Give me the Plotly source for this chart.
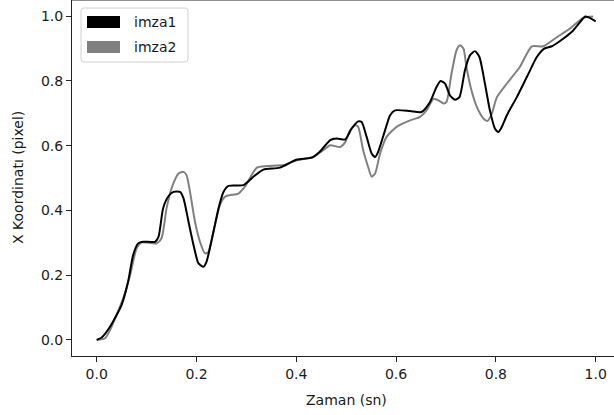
import plotly.graph_objects as go

# imza1 (black)
x1 = [0.0, 0.01, 0.027, 0.05, 0.063, 0.073, 0.083, 0.093, 0.117, 0.124, 0.133, 0.143, 0.154, 0.167,
      0.174, 0.184, 0.194, 0.204, 0.214, 0.22, 0.234, 0.244, 0.254, 0.264, 0.294, 0.314, 0.334, 0.367,
      0.401, 0.431, 0.447, 0.468, 0.481, 0.498, 0.511, 0.524, 0.531, 0.541, 0.551, 0.558, 0.564, 0.578,
      0.588, 0.598, 0.628, 0.651, 0.668, 0.681, 0.689, 0.698, 0.708, 0.718, 0.727, 0.738, 0.748, 0.758,
      0.767, 0.778, 0.788, 0.798, 0.805, 0.812, 0.822, 0.842, 0.862, 0.882, 0.897, 0.912, 0.93, 0.955,
      0.979, 0.985, 1.0]
y1 = [0.0, 0.007, 0.041, 0.108, 0.18, 0.262, 0.298, 0.303, 0.303, 0.319, 0.406, 0.442, 0.457, 0.457,
      0.437, 0.365, 0.293, 0.236, 0.226, 0.241, 0.334, 0.406, 0.457, 0.476, 0.478, 0.504, 0.526, 0.532,
      0.557, 0.563, 0.581, 0.617, 0.622, 0.619, 0.653, 0.675, 0.673, 0.627, 0.576, 0.565, 0.581, 0.648,
      0.694, 0.709, 0.707, 0.704, 0.735, 0.781, 0.8, 0.792, 0.755, 0.742, 0.75, 0.833, 0.879, 0.892,
      0.874, 0.792, 0.709, 0.653, 0.642, 0.658, 0.694, 0.75, 0.812, 0.874, 0.9, 0.907, 0.925, 0.956,
      0.999, 0.997, 0.984]

# imza2 (gray)
x2 = [0.0, 0.017, 0.027, 0.053, 0.067, 0.08, 0.09, 0.12, 0.13, 0.14, 0.15, 0.164, 0.174, 0.18, 0.187,
      0.197, 0.207, 0.217, 0.224, 0.234, 0.247, 0.257, 0.267, 0.284, 0.297, 0.321, 0.341, 0.374, 0.401,
      0.434, 0.454, 0.468, 0.488, 0.498, 0.508, 0.518, 0.524, 0.534, 0.544, 0.551, 0.558, 0.568, 0.581,
      0.601, 0.628, 0.648, 0.661, 0.675, 0.685, 0.695, 0.701, 0.711, 0.721, 0.728, 0.735, 0.741, 0.751,
      0.762, 0.775, 0.783, 0.792, 0.802, 0.822, 0.848, 0.872, 0.895, 0.922, 0.948, 0.975, 0.995]
y2 = [0.0, 0.005, 0.031, 0.128, 0.2, 0.283, 0.301, 0.298, 0.314, 0.406, 0.468, 0.514, 0.519, 0.509, 0.457,
      0.365, 0.303, 0.267, 0.272, 0.334, 0.416, 0.442, 0.447, 0.452, 0.473, 0.532, 0.537, 0.54, 0.555,
      0.565, 0.586, 0.601, 0.596, 0.611, 0.648, 0.663, 0.658, 0.586, 0.534, 0.504, 0.514, 0.576, 0.627,
      0.658, 0.678, 0.689, 0.709, 0.745, 0.74, 0.73, 0.735, 0.822, 0.894, 0.91, 0.9, 0.843, 0.771,
      0.719, 0.684, 0.676, 0.699, 0.75, 0.792, 0.843, 0.907, 0.907, 0.935, 0.961, 0.995, 0.999]

xticks = [0.0, 0.2, 0.4, 0.6, 0.8, 1.0]
yticks = [0.0, 0.2, 0.4, 0.6, 0.8, 1.0]
tick_text = ["0.0", "0.2", "0.4", "0.6", "0.8", "1.0"]
names = ["imza1", "imza2"]
colors = ["#000000", "#808080"]

W, H = 614, 415
L, R, T, B = 72, 0, 0, 59
PW, PH = W - L - R, H - T - B
FONT = "DejaVu Sans"
TXT = "#1a1a1a"


def px(xp):
    return (xp - L) / PW


def py(yp):
    return 1 - (yp - T) / PH


fig = go.Figure()
fig.add_trace(go.Scatter(x=x2, y=y2, mode="lines", name=names[1],
                         line=dict(color=colors[1], width=2, shape="spline", smoothing=0.6),
                         showlegend=False))
fig.add_trace(go.Scatter(x=x1, y=y1, mode="lines", name=names[0],
                         line=dict(color=colors[0], width=2, shape="spline", smoothing=0.6),
                         showlegend=False))

shapes = []
# top spine
shapes.append(dict(type="line", xref="paper", yref="paper", x0=0, x1=1, y0=1, y1=1,
                   line=dict(color="#222", width=1)))
# legend box (rounded)
bx0, by0, bx1, by1, r = px(81), py(8), px(188), py(62), 0
x0p, x1p, y0p, y1p = 81, 188, 8, 62
rad = 3
path = (f"M {x0p+rad},{y0p} L {x1p-rad},{y0p} Q {x1p},{y0p} {x1p},{y0p+rad} "
        f"L {x1p},{y1p-rad} Q {x1p},{y1p} {x1p-rad},{y1p} L {x0p+rad},{y1p} "
        f"Q {x0p},{y1p} {x0p},{y1p-rad} L {x0p},{y0p+rad} Q {x0p},{y0p} {x0p+rad},{y0p} Z")


def conv_path(p):
    out = []
    for tok in p.split():
        if "," in tok:
            a, b = tok.split(",")
            out.append(f"{px(float(a)):.5f},{py(float(b)):.5f}")
        else:
            out.append(tok)
    return " ".join(out)


shapes.append(dict(type="path", xref="paper", yref="paper", path=conv_path(path),
                   fillcolor="rgba(255,255,255,0.85)", line=dict(color="#d0d0d0", width=1)))
legend_rows = [(16, 28, 22), (41, 53, 47)]
annotations = []
for (ya, yb, yc), c, n in zip(legend_rows, colors, names):
    shapes.append(dict(type="rect", xref="paper", yref="paper", x0=px(87), x1=px(120),
                       y0=py(yb), y1=py(ya), fillcolor=c, line=dict(width=0)))
    annotations.append(dict(x=px(132), y=py(yc), xref="paper", yref="paper", text=n,
                            showarrow=False, xanchor="left", yanchor="middle",
                            font=dict(family=FONT, size=14, color=TXT)))

annotations.append(dict(x=px(346.5), y=py(400), xref="paper", yref="paper", text="Zaman (sn)",
                        showarrow=False, xanchor="center", yanchor="middle",
                        font=dict(family=FONT, size=14, color=TXT)))
annotations.append(dict(x=px(18), y=py(178), xref="paper", yref="paper", text="X Koordinatı (pixel)",
                        showarrow=False, xanchor="center", yanchor="middle", textangle=-90,
                        font=dict(family=FONT, size=14, color=TXT)))

axis_common = dict(showgrid=False, zeroline=False, showline=True, linecolor="#222", linewidth=1,
                   ticks="outside", ticklen=5, tickwidth=1, tickcolor="#222",
                   tickfont=dict(family=FONT, size=14, color=TXT))

fig.update_layout(
    width=W, height=H,
    margin=dict(l=L, r=R, t=T, b=B, pad=0),
    paper_bgcolor="white", plot_bgcolor="white",
    xaxis=dict(range=[-0.0495, 1.0367], tickvals=xticks, ticktext=tick_text, **axis_common),
    yaxis=dict(range=[-0.05, 1.05], tickvals=yticks, ticktext=tick_text, **axis_common),
    shapes=shapes, annotations=annotations, showlegend=False,
)

fig.write_html("out.html")
